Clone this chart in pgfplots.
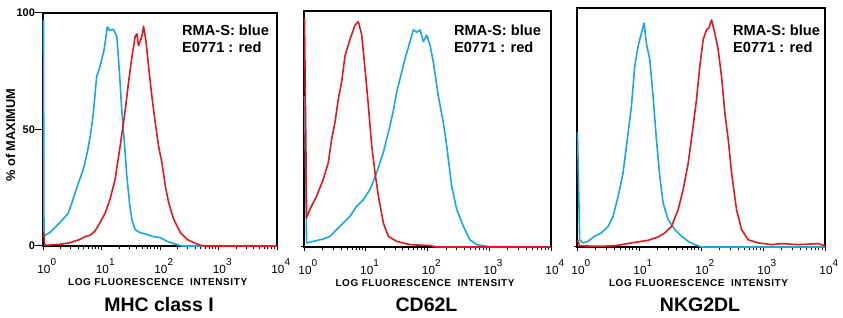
\documentclass[border=0pt]{standalone}
\usepackage{pgfplots}
\pgfplotsset{compat=1.18}
\usepackage{fontspec}
\setmainfont{Liberation Sans}
\definecolor{fblue}{RGB}{20,170,225}
\definecolor{fred}{RGB}{225,25,30}
\newcommand\tl[1]{10\rlap{\raisebox{8pt}{\fontsize{10}{10}\selectfont #1}}}
\newcommand\xlab{\bfseries\fontsize{10}{10}\selectfont\addfontfeatures{LetterSpace=6}LOG FLUORESCENCE\hspace{3pt} INTENSITY}
\pgfplotsset{
 facs/.style={
  scale only axis, anchor=south west, clip=false,
  xmin=0, xmax=4, ymin=0, ymax=100,
  axis line style={line width=1.2pt},
  tick align=outside,
  xtick pos=left, ytick pos=left,
  xtick={0,1,2,3,4},
  xticklabels={{\tl{0}},{\tl{1}},{\tl{2}},{\tl{3}},{\tl{4}}},
  minor xtick={0.301,0.477,0.602,0.699,0.778,0.845,0.903,0.954,
               1.301,1.477,1.602,1.699,1.778,1.845,1.903,1.954,
               2.301,2.477,2.602,2.699,2.778,2.845,2.903,2.954,
               3.301,3.477,3.602,3.699,3.778,3.845,3.903,3.954},
  major tick length=4.5pt, minor tick length=3pt,
  every tick/.style={black, line width=1pt},
  xticklabel style={font=\fontsize{11.8}{11.8}\selectfont, anchor=base, yshift=-23pt, xshift=1pt},
  yticklabel style={font=\bfseries\fontsize{11}{11}\selectfont},
  ytick style={/pgfplots/major tick length=8pt},
  xlabel={\xlab},
  every axis x label/.style={at={(axis description cs:0.49,0)}, anchor=base, yshift=-40pt},
  every axis y label/.style={at={(axis description cs:-0.139,0.476)}, anchor=center, rotate=90,
     font=\bfseries\fontsize{12.8}{12.8}\selectfont},
 },
}
\tikzset{
 leg/.style={anchor=north west, inner sep=0pt, align=left, font=\bfseries\fontsize{14.6}{17}\selectfont},
 ttl/.style={anchor=base, inner sep=0pt, font=\bfseries\fontsize{19.5}{19.5}\selectfont},
 cb/.style={fblue, line width=1.6pt, line join=round},
 cr/.style={fred, line width=1.6pt, line join=round},
}
\begin{document}
\begin{tikzpicture}
\useasboundingbox (0pt,0pt) rectangle (843pt,318pt);
% ---------- Panel 1 : MHC class I ----------
\begin{axis}[facs, at={(43pt,72pt)}, width=234pt, height=233pt,
  ytick={0,50,100}, yticklabels={0,50,100}, ylabel={\% of MAXIMUM}]
\addplot[cb] coordinates {
(0.008,97)(0.017,4)(0.057,5)(0.115,5.7)(0.287,10)(0.430,14)(0.487,18)(0.585,25.6)
(0.688,32.8)(0.756,40)(0.814,48)(0.860,57)(0.917,72.6)(0.974,77)(1.043,84)(1.100,94)
(1.146,92.5)(1.203,93)(1.232,91.5)(1.261,90)(1.289,81)(1.318,70)(1.347,58)(1.387,45.6)
(1.433,30)(1.479,18.5)(1.519,11.4)(1.576,7)(1.662,5.7)(1.777,5)(1.891,4)(2.006,3.6)
(2.120,2)(2.235,1)(2.378,0)(4,0)};
\addplot[cr] coordinates {
(0.008,6)(0.03,0.5)(0.057,0.3)(0.287,0.7)(0.458,1.4)(0.630,2.8)(0.716,4)(0.802,4.6)
(0.888,6.4)(0.974,10)(1.060,14)(1.146,20)(1.232,28.5)(1.318,42.7)(1.404,58)(1.461,70)
(1.519,81)(1.576,90)(1.605,91)(1.633,86)(1.691,90)(1.719,94.3)(1.759,88)(1.805,77)
(1.862,64)(1.920,52.7)(1.977,42.7)(2.034,35.6)(2.092,25.6)(2.149,18.5)(2.235,11.4)
(2.350,5.7)(2.464,2.8)(2.579,1.4)(2.693,0.3)(2.751,0)(4,0)};
\node[leg] at (axis description cs:0.594,1) [yshift=-11.8pt] {RMA-S: blue\\E0771 : red};
\node[ttl] at (axis description cs:0.496,0) [yshift=-65.7pt] {MHC class I};
\end{axis}
% ---------- Panel 2 : CD62L ----------
\begin{axis}[facs, at={(304pt,71pt)}, width=247pt, height=236pt,
  ytick={0}, yticklabels={}, ytick style={/pgfplots/major tick length=3pt}]
\addplot[cb] coordinates {
(0.008,64)(0.043,1.7)(0.151,2.4)(0.313,3.4)(0.421,4.5)(0.529,7.4)(0.637,10.2)(0.745,13)
(0.853,17.3)(0.961,20)(1.069,24.4)(1.177,31.5)(1.285,40)(1.393,51.4)(1.447,57.8)
(1.501,65.6)(1.555,71.3)(1.636,79.8)(1.717,87)(1.771,92)(1.825,91)(1.879,92)(1.933,87)
(1.987,89.8)(2.041,85.5)(2.094,78.4)(2.175,64)(2.256,52.8)(2.310,43)(2.391,25.9)
(2.472,16)(2.580,8.8)(2.688,3)(2.796,1)(2.958,0.3)(3.012,0)(4,0)};
\addplot[cr] coordinates {
(0.008,97)(0.043,12.4)(0.097,16)(0.205,21.6)(0.313,28.7)(0.394,35.8)(0.448,45.7)
(0.502,52.8)(0.556,62.8)(0.610,70)(0.664,81)(0.745,88)(0.826,94)(0.880,95.5)(0.934,90)
(0.988,75.6)(1.042,60)(1.096,43)(1.150,31.5)(1.204,21.6)(1.285,10.2)(1.366,4.5)
(1.501,2.4)(1.717,1)(2.041,0.6)(2.148,0)(4,0)};
\node[leg] at (axis description cs:0.607,1) [yshift=-14pt] {RMA-S: blue\\E0771 : red};
\node[ttl] at (axis description cs:0.496,0) [yshift=-64.7pt] {CD62L};
\end{axis}
% ---------- Panel 3 : NKG2DL ----------
\begin{axis}[facs, at={(577pt,71pt)}, width=248pt, height=239pt,
  ytick={0}, yticklabels={}, ytick style={/pgfplots/major tick length=3pt}]
\addplot[cb] coordinates {
(0.008,48)(0.043,3)(0.097,1.7)(0.178,2.4)(0.285,4.5)(0.393,5.9)(0.501,8.6)(0.581,12.8)
(0.662,21)(0.743,31)(0.824,47.7)(0.878,58.9)(0.931,75.6)(0.985,84)(1.039,89.5)
(1.082,93.7)(1.120,85)(1.174,78.4)(1.227,63)(1.281,45)(1.335,29.6)(1.389,18.4)
(1.470,11.4)(1.577,7.3)(1.685,4.5)(1.793,2.4)(1.900,1)(2.008,0)(4,0)};
\addplot[cr] coordinates {
(0.008,3)(0.043,0.5)(0.339,0.3)(0.608,0.5)(0.878,1.7)(1.147,2.8)(1.308,4.2)(1.416,5.9)
(1.524,8.6)(1.631,15.6)(1.712,24)(1.793,35)(1.873,50.5)(1.927,61.6)(1.981,75.6)
(2.035,86.8)(2.089,91)(2.127,91.6)(2.170,95)(2.223,89.5)(2.277,82.6)(2.331,71.4)
(2.385,56)(2.439,45)(2.493,31)(2.573,15.6)(2.654,7.3)(2.762,3)(2.923,1.7)(3.139,1)
(3.300,1.4)(3.569,1)(3.892,1.4)(4,0.5)};
\node[leg] at (axis description cs:0.629,1) [yshift=-17pt] {RMA-S: blue\\E0771 : red};
\node[ttl] at (axis description cs:0.496,0) [yshift=-64.7pt] {NKG2DL};
\end{axis}
\end{tikzpicture}
\end{document}
